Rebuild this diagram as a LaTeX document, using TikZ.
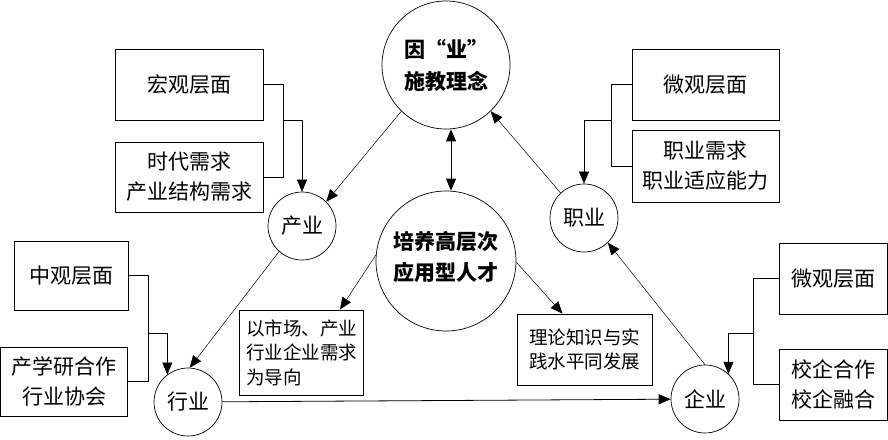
\documentclass[tikz,border=0pt]{standalone}
\usepackage{fontspec}
\newfontfamily\cjk{Noto Sans CJK SC}
\usetikzlibrary{arrows.meta}
\begin{document}
\begin{tikzpicture}[x=1pt,y=-1pt,
  box/.style={draw, line width=0.9pt, inner sep=0pt, align=center, font=\cjk\fontsize{21}{30}\selectfont},
  sbox/.style={draw, line width=0.9pt, inner sep=0pt, align=center, font=\cjk\fontsize{18.5}{24.5}\selectfont},
  bigc/.style={draw, circle, line width=0.7pt, inner sep=0pt, align=center, font=\cjk\bfseries\fontsize{21}{32}\selectfont},
  bigtext/.style={inner sep=0pt, align=center, font=\cjk\bfseries\fontsize{21}{31}\selectfont},
  smc/.style={draw, circle, line width=0.7pt, inner sep=0pt, minimum size=68, font=\cjk\fontsize{21}{30}\selectfont},
  conn/.style={line width=0.8pt},
  arr/.style={line width=0.5pt, -{Triangle[length=12pt, width=10pt]}},
  arrs/.style={line width=0.8pt, {Triangle[length=12pt, width=10pt]}-{Triangle[length=12pt, width=10pt]}}
]
\useasboundingbox (0,0) rectangle (888,439);
% circles
\node[bigc, minimum size=128] (T) at (446,65) {因“业”\\施教理念};
\node[bigc, minimum size=140] (M) at (446,261) {};
\node[bigtext] (Mt) at (446,257) {培养高层次\\应用型人才};
\node[smc] (P) at (302,226) {产业};
\node[smc] (J) at (584,218) {职业};
\node[smc] (H) at (188,402) {行业};
\node[smc] (Q) at (705,399) {企业};
% boxes
\node[box, minimum width=148, minimum height=71] (A1) at (189,84.5) {宏观层面};
\node[box, minimum width=148, minimum height=70] (A2) at (189,177) {时代需求\\产业结构需求};
\node[box, minimum width=147, minimum height=71] (B1) at (705.5,84.5) {微观层面};
\node[box, minimum width=147, minimum height=72] (B2) at (705.5,166) {职业需求\\职业适应能力};
\node[box, minimum width=114, minimum height=69] (C1) at (71,275.5) {中观层面};
\node[box, minimum width=127, minimum height=69] (C2) at (64,381.5) {产学研合作\\行业协会};
\node[box, minimum width=108, minimum height=71] (D1) at (833.5,278.5) {微观层面};
\node[box, minimum width=108, minimum height=71] (D2) at (833.5,384.5) {校企合作\\校企融合};
\node[sbox, minimum width=124, minimum height=85, text width=110, align=left] (L) at (301,352.5) {以市场、产业\\行业企业需求\\为导向};
\node[sbox, minimum width=135, minimum height=71] (R) at (584.5,349.5) {理论知识与实\\践水平同发展};
% bracket connectors
\draw[conn] (A1.east) -- ++(20,0) |- (A2.east);
\coordinate (ja) at (283,120);
\draw[arr] (ja) -| (P);
\draw[conn] (B1.west) -- ++(-20,0) |- (B2.west);
\coordinate (jb) at (612,120);
\draw[arr] (jb) -| (J);
\draw[conn] (C1.east) -- ++(20,0) |- (C2.east);
\coordinate (jc) at (148,333);
\draw[arr] (jc) -| (H.127);
\draw[conn] (D1.west) -- ++(-26,0) |- (D2.west);
\coordinate (jd) at (753,333);
\draw[arr] (jd) -| (Q.47);
% main arrows
\draw[arr] (T.226) -- (P.45);
\draw[arr] (P.228) -- (H.87);
\draw[arr] (J.133) -- (T.314);
\draw[arr] (Q.90) -- (J.314);
\draw[arr, line width=0.8pt] (H) -- (Q);
\draw[arrs] ([xshift=5pt]T.south) -- ([xshift=5pt]M.north);
\draw[arr] (M.175) -- ([xshift=39pt]L.north);
\draw[arr] (M.359) -- ([xshift=-22pt]R.north);
\end{tikzpicture}
\end{document}
